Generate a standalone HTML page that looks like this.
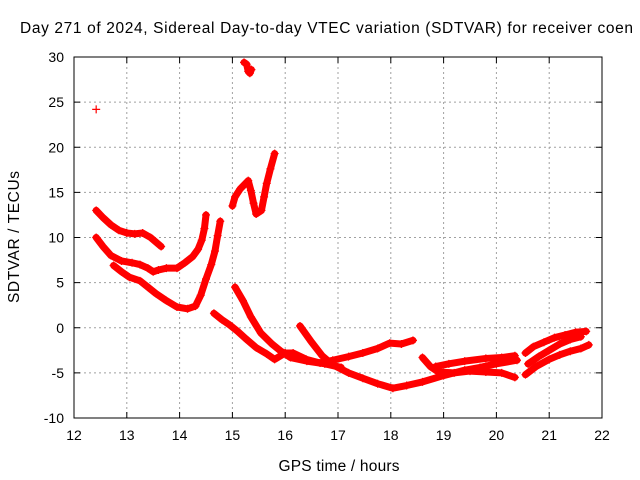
<!DOCTYPE html>
<html><head><meta charset="utf-8"><style>
html,body{margin:0;padding:0;background:#fff;overflow:hidden;width:640px;height:480px}
svg text{font-family:"Liberation Sans",sans-serif;fill:#000}
</style></head><body>
<svg id="chart" width="640" height="480" xmlns="http://www.w3.org/2000/svg">
<rect x="0" y="0" width="640" height="480" fill="#fff"/>
<g id="grid"></g>
<g id="series"></g>
<rect x="74" y="57" width="528" height="361" fill="none" stroke="#000" stroke-width="1"/>
<g id="axes"></g>
<text x="20" y="33" font-size="15.5" textLength="613" lengthAdjust="spacing">Day 271 of 2024, Sidereal Day-to-day VTEC variation (SDTVAR) for receiver coen</text>
<text x="339" y="471" font-size="15.5" text-anchor="middle" textLength="121" lengthAdjust="spacing">GPS time / hours</text>
<text transform="translate(19,237) rotate(-90)" font-size="15.5" text-anchor="middle" textLength="132" lengthAdjust="spacing">SDTVAR / TECUs</text>
</svg>
<script>
const xTicks=[12,13,14,15,16,17,18,19,20,21,22];
const yTicks=[-10,-5,0,5,10,15,20,25,30];
const sIso1=[[12.42,24.2]];
const sIso2=[[15.22,29.4],[15.27,29.2],[15.3,28.4],[15.33,28.2],[15.36,28.6]];
const sA=[[12.42,13],[12.55,12.2],[12.7,11.4],[12.85,10.8],[13,10.5],[13.15,10.4],[13.3,10.5],[13.45,10],[13.55,9.5],[13.65,9]];
const sB=[[12.42,10],[12.55,9],[12.7,8],[12.9,7.4],[13.1,7.2],[13.25,7.0],[13.4,6.6],[13.5,6.2],[13.6,6.4],[13.75,6.6],[13.95,6.6],[14.1,7.2],[14.25,7.9],[14.35,8.7],[14.42,9.7],[14.47,11],[14.5,12.5]];
const sC=[[12.75,6.9],[12.9,6.2],[13.05,5.6],[13.25,5.2],[13.4,4.5],[13.55,3.8],[13.75,3],[13.95,2.3],[14.15,2.1],[14.3,2.4],[14.4,3.6],[14.5,5.4],[14.6,7],[14.67,8.5],[14.72,10.2],[14.77,11.8]];
const sD=[[14.65,1.6],[14.8,0.9],[14.95,0.3],[15.1,-0.4],[15.25,-1.2],[15.45,-2.2],[15.65,-2.9],[15.8,-3.5],[16.0,-2.8],[16.15,-2.8],[16.4,-3.5],[16.66,-3.9],[16.9,-3.6],[17.2,-3.2],[17.47,-2.8],[17.75,-2.3],[17.98,-1.7],[18.2,-1.8],[18.42,-1.4]];
const sE=[[15.05,4.5],[15.2,3],[15.35,1.2],[15.54,-0.6],[15.75,-1.8],[15.92,-2.6],[16.1,-3.3],[16.41,-3.7],[16.75,-4.0],[17.06,-4.4]];
const sF=[[16.28,0.2],[16.5,-1.6],[16.7,-3.1],[16.9,-4.1],[17.2,-5.0],[17.47,-5.6],[17.75,-6.2],[18.04,-6.7],[18.3,-6.4],[18.6,-6],[19.0,-5.3],[19.4,-4.7],[19.69,-4.4],[20.0,-4.0],[20.39,-3.6]];
const sG=[[18.6,-3.3],[18.75,-4.3],[18.9,-4.9],[19.2,-5.0],[19.5,-4.8],[19.8,-4.9],[20.1,-5.0],[20.35,-5.5]];
const sH=[[18.85,-4.3],[19.1,-4.0],[19.4,-3.7],[19.8,-3.4],[20.1,-3.3],[20.35,-3.1]];
const sR1=[[20.55,-2.8],[20.7,-2.1],[20.9,-1.6],[21.1,-1.1],[21.3,-0.8],[21.5,-0.5],[21.7,-0.4]];
const sR2=[[20.55,-5.2],[20.75,-4.3],[21.0,-3.5],[21.2,-3.0],[21.4,-2.6],[21.6,-2.3],[21.75,-1.9]];
const sR3=[[20.6,-4.0],[20.8,-3.2],[21.0,-2.5],[21.2,-1.8],[21.4,-1.3],[21.6,-1.0]];
const sTop=[[15.0,13.5],[15.05,14.5],[15.15,15.4],[15.3,16.3],[15.35,15.2],[15.4,13.8],[15.45,12.6],[15.55,13],[15.6,14.5],[15.65,16],[15.72,17.6],[15.8,19.3]];
const allSeries=[sIso1,sIso2,sA,sB,sC,sD,sE,sF,sG,sH,sR1,sR2,sR3,sTop];
const seriesNames=['iso-1','iso-2','a','b','c','d','e','f','g','h','r1','r2','r3','top'];

const X0=74,X1=602,Y0=418,Y1=57;
function sx(v){return X0+(v-12)/10*(X1-X0);}
function sy(v){return Y0-(v+10)/40*(Y0-Y1);}
const NS='http://www.w3.org/2000/svg';
function mk(tag,attrs,parent){const e=document.createElementNS(NS,tag);for(const k in attrs)e.setAttribute(k,attrs[k]);parent.appendChild(e);return e;}
const grid=document.getElementById('grid'),axes=document.getElementById('axes'),ser=document.getElementById('series');
xTicks.forEach(t=>{const x=sx(t);
 if(t>12&&t<22){const l=mk('line',{x1:x,x2:x,y1:Y1,y2:Y0,stroke:'#a0a0a0','stroke-dasharray':'2,3'},grid);
 
 }
 mk('line',{x1:x,x2:x,y1:Y0,y2:Y0-6,stroke:'#000'},axes);
 mk('line',{x1:x,x2:x,y1:Y1,y2:Y1+6,stroke:'#000'},axes);
 const tx=mk('text',{x:x,y:Y0+22,'font-size':'14','text-anchor':'middle'},axes);tx.textContent=t;
 
 });
yTicks.forEach(t=>{const y=sy(t);
 if(t>-10&&t<30){const l=mk('line',{x1:X0,x2:X1,y1:y,y2:y,stroke:'#a0a0a0','stroke-dasharray':'2,3'},grid);
 
 }
 mk('line',{x1:X0,x2:X0+6,y1:y,y2:y,stroke:'#000'},axes);
 mk('line',{x1:X1,x2:X1-6,y1:y,y2:y,stroke:'#000'},axes);
 const tx=mk('text',{x:X0-10,y:y+5,'font-size':'14','text-anchor':'end'},axes);tx.textContent=t;
 
 });
allSeries.forEach((s,i)=>{
 const g=mk('g',{},ser);
 
 
 if(s.length>1){mk('polyline',{points:s.map(p=>sx(p[0])+','+sy(p[1])).join(' '),fill:'none',stroke:'#f00','stroke-width':7,'stroke-linejoin':'round','stroke-linecap':'round'},g);}
 s.forEach(p=>{const x=sx(p[0]),y=sy(p[1]);
  const m=mk('path',{d:`M${x-4},${y}H${x+4}M${x},${y-4}V${y+4}`,stroke:'#f00','stroke-width':1.2},g);
  
  });
});
</script>
</body></html>
